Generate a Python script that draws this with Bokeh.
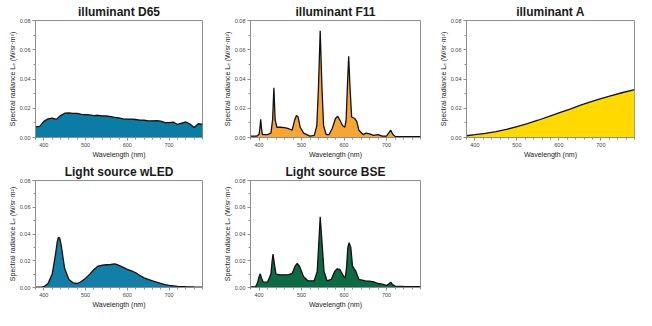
from bokeh.plotting import figure
from bokeh.layouts import column, row
from bokeh.models import Range1d, NumeralTickFormatter, FixedTicker, ColumnDataSource
from bokeh.embed import file_html
from bokeh.resources import INLINE

# ---------------- data ----------------
x_ticks = [400, 500, 600, 700]
y_ticks = [0.0, 0.02, 0.04, 0.06, 0.08]

d65_wl = [380, 390, 400, 410, 420, 430, 440, 450, 460, 470, 480, 490, 500, 510, 520, 530,
          540, 550, 560, 570, 580, 590, 600, 610, 620, 630, 640, 650, 660, 670, 680, 690,
          700, 710, 720, 730, 740, 750, 760, 770, 780]
d65_val = [0.0072, 0.0076, 0.0110, 0.0128, 0.0132, 0.0124, 0.0150, 0.0166, 0.0168, 0.0165,
           0.0165, 0.0158, 0.0157, 0.0154, 0.0150, 0.0152, 0.0148, 0.0147, 0.0142, 0.0137,
           0.0134, 0.0128, 0.0126, 0.0126, 0.0123, 0.0119, 0.0118, 0.0114, 0.0114, 0.0116,
           0.0112, 0.0101, 0.0102, 0.0105, 0.0089, 0.0099, 0.0106, 0.0092, 0.0068, 0.0094,
           0.0090]

f11_wl = [380, 395, 400, 402, 404, 406, 408, 420, 428, 432, 435, 438, 442, 450, 460, 470,
          478, 484, 488, 492, 497, 505, 520, 530, 536, 540, 544, 548, 552, 558, 565, 572,
          580, 585, 590, 597, 602, 605, 608, 611, 614, 618, 625, 630, 635, 645, 652, 660,
          670, 680, 690, 700, 705, 710, 715, 720, 740, 780]
f11_val = [0.0010, 0.0010, 0.0020, 0.0060, 0.0125, 0.0060, 0.0020, 0.0020, 0.0030, 0.0120,
           0.0340, 0.0120, 0.0070, 0.0070, 0.0068, 0.0060, 0.0050, 0.0120, 0.0150, 0.0140,
           0.0070, 0.0030, 0.0010, 0.0015, 0.0080, 0.0350, 0.0730, 0.0350, 0.0080, 0.0020,
           0.0020, 0.0060, 0.0130, 0.0145, 0.0120, 0.0080, 0.0070, 0.0120, 0.0350, 0.0555,
           0.0350, 0.0140, 0.0130, 0.0110, 0.0050, 0.0020, 0.0030, 0.0025, 0.0015, 0.0020,
           0.0010, 0.0010, 0.0030, 0.0050, 0.0020, 0.0008, 0.0006, 0.0006]

a_wl = [380, 400, 425, 450, 475, 500, 525, 550, 575, 600, 625, 650, 675, 700, 725, 750, 780]
a_val = [0.0012, 0.0019, 0.0028, 0.0040, 0.0055, 0.0075, 0.0095, 0.0118, 0.0142, 0.0168,
         0.0193, 0.0219, 0.0243, 0.0266, 0.0287, 0.0306, 0.0327]

wled_wl = [380, 395, 400, 410, 420, 428, 432, 435, 438, 442, 446, 450, 460, 470, 480, 490,
           500, 510, 520, 530, 540, 550, 560, 570, 580, 590, 600, 610, 620, 630, 640, 650,
           660, 670, 680, 690, 700, 720, 740, 760, 780]
wled_val = [0.0003, 0.0003, 0.0006, 0.0030, 0.0100, 0.0250, 0.0340, 0.0376, 0.0370, 0.0310,
            0.0220, 0.0140, 0.0060, 0.0035, 0.0030, 0.0045, 0.0070, 0.0100, 0.0135, 0.0160,
            0.0168, 0.0170, 0.0172, 0.0176, 0.0165, 0.0150, 0.0135, 0.0125, 0.0110, 0.0090,
            0.0072, 0.0060, 0.0050, 0.0040, 0.0030, 0.0022, 0.0016, 0.0009, 0.0006, 0.0004,
            0.0003]

bse_wl = [380, 392, 397, 400, 403, 406, 410, 420, 428, 431, 433, 436, 440, 450, 470, 478,
          485, 490, 495, 505, 515, 530, 537, 541, 544, 548, 553, 560, 570, 578, 584, 590,
          598, 603, 606, 609, 612, 616, 620, 628, 635, 650, 660, 670, 680, 690, 700, 705,
          710, 715, 720, 740, 780]
bse_val = [0.0005, 0.0005, 0.0040, 0.0080, 0.0102, 0.0070, 0.0040, 0.0040, 0.0100, 0.0200,
           0.0250, 0.0180, 0.0100, 0.0095, 0.0097, 0.0105, 0.0160, 0.0180, 0.0160, 0.0080,
           0.0050, 0.0050, 0.0120, 0.0350, 0.0528, 0.0350, 0.0120, 0.0050, 0.0060, 0.0120,
           0.0140, 0.0135, 0.0090, 0.0070, 0.0150, 0.0300, 0.0335, 0.0300, 0.0160, 0.0120,
           0.0060, 0.0050, 0.0048, 0.0042, 0.0030, 0.0025, 0.0015, 0.0025, 0.0040, 0.0020,
           0.0010, 0.0008, 0.0006]

titles = ["illuminant D65", "illuminant F11", "illuminant A",
          "Light source wLED", "Light source BSE"]
colors = ["#0b7ca3", "#f7a634", "#ffd900", "#137fa8", "#0d6b44"]

y_label = "Spectral radiance L\u2091 (W/sr\u00b7m\u00b2)"
x_label = "Wavelength (nm)"
FONT = "Liberation Sans"


def make(title, wl, vals, color, w, h, bl, br, bt, bb):
    p = figure(width=w, height=h, output_backend="svg", toolbar_location=None,
               x_range=Range1d(380, 780), y_range=Range1d(0, 0.08),
               min_border_left=bl, min_border_right=br, min_border_top=bt,
               min_border_bottom=bb, title=title)
    src = ColumnDataSource(dict(x=wl, y=vals))
    p.varea(x="x", y1=0, y2="y", source=src, fill_color=color)
    p.line(x="x", y="y", source=src, line_color="#111111", line_width=1.3)

    p.title.text_font = FONT
    p.title.text_font_size = "12px"
    p.title.text_font_style = "bold"
    p.title.align = "center"
    p.title.text_color = "#1a1a1a"
    p.title.standoff = 4
    p.title.offset = 0

    p.xgrid.visible = False
    p.ygrid.visible = False
    p.outline_line_color = "#8d8d9a"
    p.outline_line_width = 1
    p.background_fill_color = "white"
    p.border_fill_color = "white"

    p.xaxis.ticker = FixedTicker(ticks=x_ticks,
                                 minor_ticks=list(range(380, 781, 20)))
    p.yaxis.ticker = FixedTicker(ticks=y_ticks,
                                 minor_ticks=[0.01, 0.03, 0.05, 0.07])
    p.yaxis.formatter = NumeralTickFormatter(format="0.00")
    p.xaxis.axis_label = x_label
    p.yaxis.axis_label = y_label
    for ax in (p.xaxis[0], p.yaxis[0]):
        ax.axis_line_color = "#8d8d9a"
        ax.major_tick_line_color = "#8d8d9a"
        ax.minor_tick_line_color = "#8d8d9a"
        ax.major_tick_out = 3
        ax.major_tick_in = 0
        ax.minor_tick_out = 2
        ax.minor_tick_in = 0
        ax.major_label_text_font = FONT
        ax.major_label_text_font_size = "5.5px"
        ax.major_label_text_color = "#444444"
        ax.major_label_standoff = 2
        ax.axis_label_text_font = FONT
        ax.axis_label_text_font_size = "7px"
        ax.axis_label_text_font_style = "normal"
        ax.axis_label_text_color = "#222222"
        ax.axis_label_standoff = 1
    return p


p1 = make(titles[0], d65_wl, d65_val, colors[0], 215, 160, 35, 13, 20, 10)
p2 = make(titles[1], f11_wl, f11_val, colors[1], 215, 160, 35, 10, 20, 10)
p3 = make(titles[2], a_wl, a_val, colors[2], 206, 160, 36, 2, 20, 10)
p4 = make(titles[3], wled_wl, wled_val, colors[3], 215, 150, 35, 13, 20, 10)
p5 = make(titles[4], bse_wl, bse_val, colors[4], 215, 150, 35, 10, 20, 10)

layout = column(row(p1, p2, p3), row(p4, p5))
open("out.html", "w").write(file_html(layout, INLINE))
